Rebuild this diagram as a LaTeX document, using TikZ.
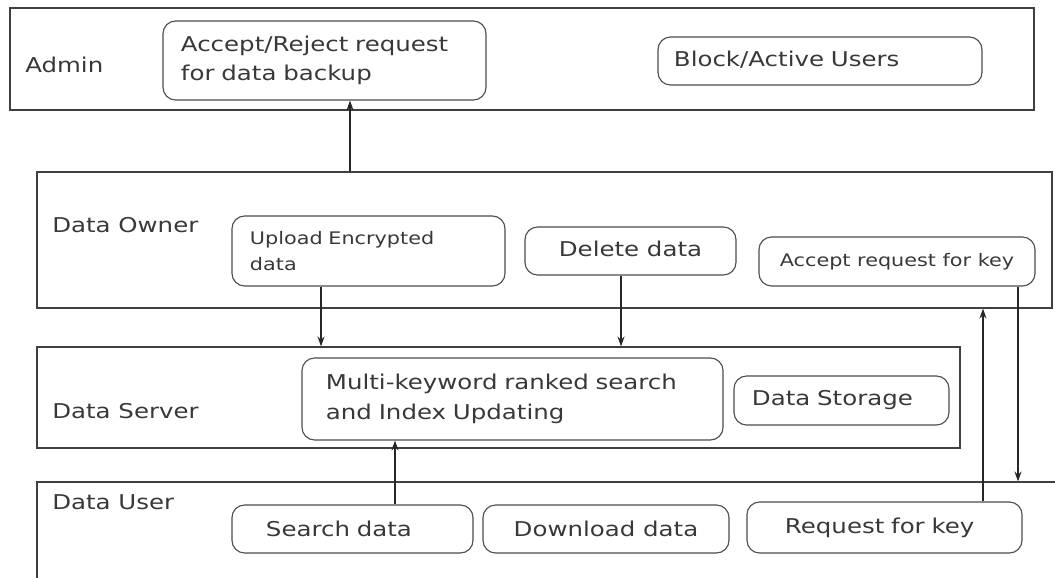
\documentclass[tikz,border=0pt]{standalone}
\usepackage{fontspec}
\setmainfont{DejaVu Sans}[FakeStretch=1.2]
\usetikzlibrary{arrows.meta,fit}
\tikzset{lane/.style={draw=black!75,line width=0.9pt,inner sep=0pt}}
\tikzset{task/.style={draw=black!70,line width=0.8pt,rounded corners=9pt,inner ysep=0pt,text=black!78}}
\tikzset{tag/.style={anchor=west,inner sep=0pt,text=black!78}}
\tikzset{flow/.style={-{Stealth[length=7pt,width=5pt]},line width=0.8pt,black!85}}
\newcommand{\fbig}{\fontsize{14.5}{21}\selectfont}
\newcommand{\fsml}{\fontsize{12.3}{18.5}\selectfont}

\begin{document}
\begin{tikzpicture}[x=0.025cm,y=-0.025cm]
    \useasboundingbox (0,0) rectangle (1055,578);
    \clip (0,0) rectangle (1055,578);
    % lanes
    \node[lane,fit={(10,8) (1034,110)}] (admin) {};
    \node[lane,fit={(37,172) (1052,308)}] (owner) {};
    \node[lane,fit={(37,347) (960,448)}] (server) {};
    \node[lane,fit={(37,482) (1080,600)}] (user) {};
    \node[tag,font=\fbig] (ladmin) at (25,65) {Admin};
    \node[tag,font=\fbig] (lowner) at (52,225) {Data Owner};
    \node[tag,font=\fbig] (lserver) at (52,411) {Data Server};
    \node[tag,font=\fbig] (luser) at (52,502) {Data User};
    % admin tasks
    \node[task,font=\fbig,align=left,inner xsep=0.45cm,text width=7.175cm,minimum height=1.975cm] (reject) at (324.5,60.5) {Accept/Reject request\\for data backup};
    \node[task,font=\fbig,align=left,inner xsep=0.4cm,text width=7.3cm,minimum height=1.2cm] (block) at (820,61) {Block/Active Users\vphantom{g}};
    % owner tasks
    \node[task,font=\fsml,align=left,inner xsep=0.45cm,text width=5.925cm,minimum height=1.75cm] (upload) at (368.5,251) {Upload Encrypted\\data};
    \node[task,font=\fbig,minimum width=5.275cm,minimum height=1.2cm] (delete) at (630.5,251) {Delete data\vphantom{g}};
    \node[task,font=\fsml,minimum width=6.9cm,minimum height=1.225cm] (acckey) at (897,261.5) {Accept request for key};
    % server tasks
    \node[task,font=\fbig,align=left,inner xsep=0.6cm,text width=9.325cm,minimum height=2.05cm] (search) at (512.5,399) {Multi-keyword ranked search\\and Index Updating};
    \node[task,font=\fbig,align=left,inner xsep=0.45cm,text width=4.475cm,minimum height=1.225cm] (storage) at (841.5,400.5) {Data Storage};
    % user tasks
    \node[task,font=\fbig,align=left,inner xsep=0.85cm,text width=4.325cm,minimum height=1.2cm] (find) at (352.5,529) {Search data};
    \node[task,font=\fbig,minimum width=6.15cm,minimum height=1.2cm] (download) at (606,529) {Download data};
    \node[task,font=\fbig,align=left,inner xsep=0.95cm,text width=4.975cm,minimum height=1.275cm] (reqkey) at (884.5,527.5) {Request for key};
    % connectors
    \coordinate (c1) at (350,0);
    \coordinate (c2) at (321,0);
    \coordinate (c3) at (621,0);
    \coordinate (c4) at (395,0);
    \coordinate (c5) at (983,0);
    \coordinate (c6) at (1018,0);
    \draw[flow] (owner.north -| c1) -- (reject.south -| c1);
    \draw[flow] (upload.south -| c2) -- (server.north -| c2);
    \draw[flow] (delete.south -| c3) -- (server.north -| c3);
    \draw[flow] (find.north -| c4) -- (search.south -| c4);
    \draw[flow] (reqkey.north -| c5) -- (owner.south -| c5);
    \draw[flow] (acckey.south -| c6) -- (user.north -| c6);
\end{tikzpicture}
\end{document}
